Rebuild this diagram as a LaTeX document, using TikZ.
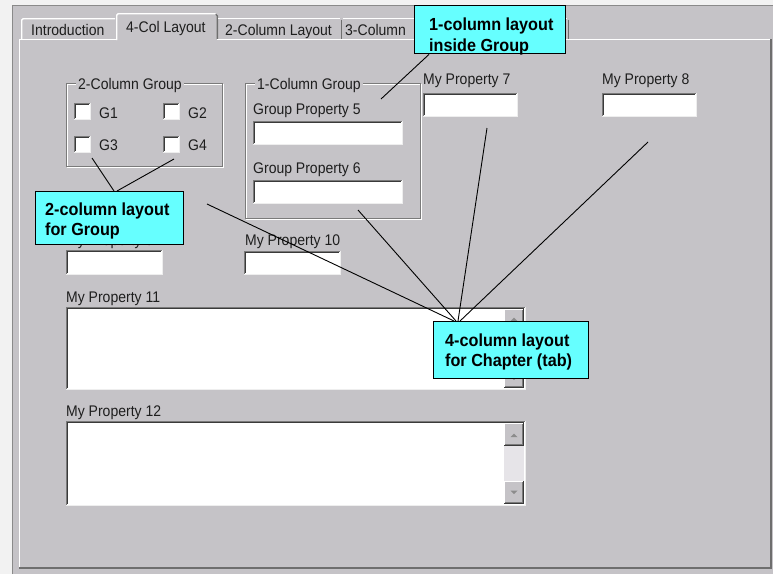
\documentclass[tikz,border=0pt]{standalone}
\usepackage{fontspec}
\setmainfont{Liberation Sans}
\usetikzlibrary{calc}
\pgfdeclarelayer{fg}
\pgfsetlayers{main,fg}
\definecolor{bg}{HTML}{C5C3C7}
\definecolor{outerc}{HTML}{F2F2F2}
\definecolor{frameln}{HTML}{8A8A8A}
\definecolor{dk}{HTML}{6E6E6E}
\definecolor{shadowc}{HTML}{7A7A7A}
\definecolor{darkest}{HTML}{3A3A3A}
\definecolor{hilite}{HTML}{EEEEEE}
\definecolor{trackc}{HTML}{E6E4E8}
\definecolor{arrowc}{HTML}{8C8C8C}
\definecolor{txt}{HTML}{1E1E1E}
\definecolor{cyanc}{HTML}{66FFFF}
\newcommand\vsc[1]{\scalebox{1}[1.1]{#1}}
\newcommand\vsb[1]{\scalebox{1}[1.08]{#1}}
\newcommand\wfield[4]{%
  \fill[white] (#1,#2) rectangle (#3,#4);
  \draw[hilite,line width=1.2pt] (#1,#4-0.6) -- (#3-0.6,#4-0.6) -- (#3-0.6,#2);
  \draw[shadowc,line width=1.2pt] (#1+0.6,#4-1) -- (#1+0.6,#2+0.6) -- (#3-1,#2+0.6);
  \draw[darkest,line width=1pt] (#1+1.7,#4-2) -- (#1+1.7,#2+1.7) -- (#3-2,#2+1.7);
}
\newcommand\rbtn[4]{%
  \fill[bg] (#1,#2) rectangle (#3,#4);
  \draw[white,line width=1pt] (#1+0.5,#4-1) -- (#1+0.5,#2+0.5) -- (#3-1,#2+0.5);
  \draw[shadowc,line width=1pt] (#1+1,#4-1.5) -- (#3-1.5,#4-1.5) -- (#3-1.5,#2+1);
  \draw[darkest,line width=1pt] (#1,#4-0.5) -- (#3-0.5,#4-0.5) -- (#3-0.5,#2);
}
\begin{document}
\begin{tikzpicture}[x=1pt,y=-1pt,
  lbl/.style={anchor=base west,inner sep=0pt,font=\fontsize{14}{16}\selectfont,text=txt},
  ctext/.style={anchor=base west,inner sep=0pt,font=\fontsize{16.2}{20}\selectfont\bfseries,text=black},
  callbox/.style={draw=black,line width=1.4pt,fill=cyanc,anchor=north west,inner sep=0pt},
  conn/.style={draw=black,line width=0.9pt},
  etchd/.style={draw=shadowc,line width=1.1pt},
  etchl/.style={draw=white,line width=1.1pt},
  tabhi/.style={draw=white,line width=1.4pt},
  tabdk/.style={draw=dk,line width=1.4pt}]
\useasboundingbox (0,0) rectangle (773,574);
% background and frame
\fill[outerc] (0,0) rectangle (773,574);
\fill[bg] (12,5) rectangle (773,574);
\draw[frameln,line width=1.2pt] (12.6,574) -- (12.6,5.6) -- (773,5.6);
% tabs
\draw[tabhi] (21.7,39) -- (21.7,20) -- (23.2,18.7) -- (115,18.7);
\draw[tabhi] (116.7,40) -- (116.7,15.2) -- (118.2,13.7) -- (215.5,13.7);
\draw[tabdk] (215.8,14.3) -- (217.3,15.8) -- (217.3,39);
\draw[tabhi] (218,18.7) -- (340,18.7);
\draw[tabdk] (341.3,19.5) -- (341.3,39);
\draw[tabhi] (342.8,18.7) -- (567,18.7);
\draw[tabdk] (568.3,19.5) -- (568.3,39);
% page edges
\draw[tabhi] (19.7,568) -- (19.7,39.7) -- (116.7,39.7);
\draw[tabhi] (217,39.7) -- (771,39.7);
\draw[draw=dk,line width=1.6pt] (19,568.2) -- (771.2,568.2) -- (771.2,39);
% tab labels
\node[lbl] (t1) at (31,35) {\vsc{Introduction}};
\node[lbl] (t2) at (126,32) {\vsc{4-Col Layout}};
\node[lbl] (t3) at (225,35) {\vsc{2-Column Layout}};
\node[lbl] (t4) at (345,35) {\vsc{3-Column}};
% group frames
\draw[etchl] (67.6,84.6) rectangle (223.6,167.6);
\draw[etchd] (66.5,83.5) rectangle (222.5,166.5);
\draw[etchl] (246.6,84.6) rectangle (421.6,219.6);
\draw[etchd] (245.5,83.5) rectangle (420.5,218.5);
\node[lbl,fill=bg,inner xsep=2pt] (g2t) at (76,89) {\vsc{2-Column Group}};
\node[lbl,fill=bg,inner xsep=2pt] (g1t) at (255,89) {\vsc{1-Column Group}};
% checkboxes
\wfield{74}{103}{91}{120}
\wfield{163}{103}{180}{120}
\wfield{74}{136}{91}{153}
\wfield{163}{136}{180}{153}
\node[lbl] (cg1) at (99,118) {\vsc{G1}};
\node[lbl] (cg2) at (188,118) {\vsc{G2}};
\node[lbl] (cg3) at (99,150) {\vsc{G3}};
\node[lbl] (cg4) at (188,150) {\vsc{G4}};
% group properties
\node[lbl] (gp5) at (253,114) {\vsc{Group Property 5}};
\wfield{253}{121}{403}{145}
\node[lbl] (gp6) at (253,173) {\vsc{Group Property 6}};
\wfield{253}{180}{403}{204}
% properties 7, 8
\node[lbl] (p7) at (423,84) {\vsc{My Property 7}};
\wfield{423}{93}{518}{117}
\node[lbl] (p8) at (602,84) {\vsc{My Property 8}};
\wfield{602}{93}{697}{117}
% properties 9, 10
\node[lbl] (p9) at (66,245) {\vsc{My Property 9}};
\wfield{66}{250}{163}{275}
\node[lbl] (p10) at (245,245) {\vsc{My Property 10}};
\wfield{244}{251}{341}{275}
% property 11
\node[lbl] (p11) at (66,302) {\vsc{My Property 11}};
\wfield{66}{307}{526}{390}
\fill[trackc] (504,309) rectangle (524,388);
\rbtn{504}{309}{524}{329}
\rbtn{504}{368}{524}{388}
\fill[arrowc] (510.5,321) -- (517.5,321) -- (514,317.5) -- cycle;
\fill[arrowc] (510.5,376.5) -- (517.5,376.5) -- (514,380) -- cycle;
% property 12
\node[lbl] (p12) at (66,416) {\vsc{My Property 12}};
\wfield{66}{421}{526}{506}
\fill[trackc] (504,423) rectangle (524,504);
\rbtn{504}{423}{524}{446}
\rbtn{504}{481}{524}{504}
\fill[arrowc] (510.5,437) -- (517.5,437) -- (514,433.5) -- cycle;
\fill[arrowc] (510.5,490.5) -- (517.5,490.5) -- (514,494) -- cycle;
% callouts
\begin{pgfonlayer}{fg}
\node[callbox,minimum width=151pt,minimum height=48pt] (c1) at (414,5) {};
\node[ctext] (c1a) at (429,30) {\vsb{1-column layout}};
\node[ctext] (c1b) at (429,51) {\vsb{inside Group}};
\node[callbox,minimum width=148pt,minimum height=53pt] (c2) at (35,191) {};
\node[ctext] (c2a) at (45,215) {\vsb{2-column layout}};
\node[ctext] (c2b) at (45,235) {\vsb{for Group}};
\node[callbox,minimum width=155pt,minimum height=57pt] (c3) at (433,321) {};
\node[ctext] (c3a) at (445,346) {\vsb{4-column layout}};
\node[ctext] (c3b) at (445,366) {\vsb{for Chapter (tab)}};
\end{pgfonlayer}
% connector ends
\coordinate (e1) at (381,99);
\coordinate (e2a) at (92,158);
\coordinate (e2b) at (174,159);
\coordinate (e3a) at (207,204);
\coordinate (e3b) at (358,210);
\coordinate (e3c) at (487,128);
\coordinate (e3d) at (648,142);
\draw[conn] ($(c1.south west)+(15,0)$) -- (e1);
\draw[conn] ($(c2.north west)+(79,0)$) -- (e2a);
\draw[conn] ($(c2.north west)+(82,0)$) -- (e2b);
\draw[conn] ($(c3.north west)+(21,0)$) -- (e3a);
\draw[conn] ($(c3.north west)+(23,0)$) -- (e3b);
\draw[conn] ($(c3.north west)+(25,0)$) -- (e3c);
\draw[conn] ($(c3.north west)+(27,0)$) -- (e3d);
\end{tikzpicture}
\end{document}
